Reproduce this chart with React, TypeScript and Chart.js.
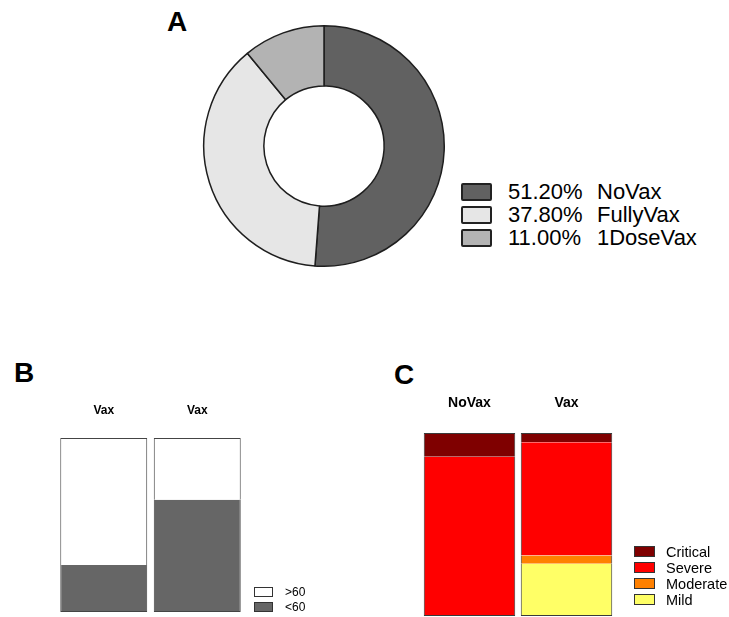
import React, { useEffect, useRef } from 'react';
import { Chart, registerables } from 'chart.js';

Chart.register(...registerables);

const FONT = 'Arial, "Liberation Sans", Helvetica, sans-serif';

// Panel A – vaccination status shares (%)
const vaxGroups = ['NoVax', 'FullyVax', '1DoseVax'];
const vaxShares = [51.2, 37.8, 11.0];
const vaxColors = ['#616161', '#e6e6e6', '#b3b3b3'];

// Panel B – age groups (%)
const ageCategories = ['Vax', 'Vax'];
const ageUnder60 = [27, 64.5];
const ageOver60 = [73, 35.5];
const ageLabels = ['>60', '<60'];
const ageColors = ['#ffffff', '#666666'];

// Panel C – severity (%)
const severityCategories = ['NoVax', 'Vax'];
const sevMild = [0, 28.5];
const sevModerate = [0, 4.5];
const sevSevere = [87, 62];
const sevCritical = [13, 5];
const severityLabels = ['Critical', 'Severe', 'Moderate', 'Mild'];
const severityColors = ['#7f0000', '#ff0000', '#ff8000', '#ffff66'];

type Box = { left: number; top: number; width: number; height: number };

function ChartCanvas({ box, makeConfig }: { box: Box; makeConfig: () => any }) {
  const ref = useRef<HTMLCanvasElement | null>(null);
  useEffect(() => {
    const chart = new Chart(ref.current as HTMLCanvasElement, makeConfig());
    return () => chart.destroy();
  }, []);
  return (
    <canvas
      ref={ref}
      width={box.width}
      height={box.height}
      style={{ position: 'absolute', left: box.left, top: box.top, width: box.width, height: box.height, display: 'block' }}
    />
  );
}

// outer outline only around each stacked column
const outlineWidth = (ctx: any) => {
  const sets = ctx.chart.data.datasets;
  const i = ctx.dataIndex;
  const d = ctx.datasetIndex;
  let below = 0;
  for (let k = 0; k < d; k++) below += Number(sets[k].data[i]) || 0;
  let above = 0;
  for (let k = d + 1; k < sets.length; k++) above += Number(sets[k].data[i]) || 0;
  return { left: 1, right: 1, top: above === 0 ? 1 : 0, bottom: below === 0 ? 1 : 0 };
};

const donutConfig = () => ({
  type: 'doughnut',
  data: {
    labels: vaxGroups,
    datasets: [
      {
        data: vaxShares,
        backgroundColor: vaxColors,
        borderColor: '#1e1e1e',
        borderWidth: 1.5,
      },
    ],
  },
  options: {
    responsive: false,
    animation: false,
    cutout: '50%',
    layout: { padding: 2 },
    plugins: { legend: { display: false }, tooltip: { enabled: false } },
  },
});

const ageConfig = () => ({
  type: 'bar',
  data: {
    labels: ageCategories,
    datasets: [
      { label: '<60', data: ageUnder60, backgroundColor: '#666666' },
      { label: '>60', data: ageOver60, backgroundColor: '#ffffff' },
    ].map((d) => ({ ...d, borderColor: '#444444', borderWidth: outlineWidth, borderSkipped: false, categoryPercentage: 1, barPercentage: 0.93 })),
  },
  options: {
    responsive: false,
    animation: false,
    layout: { padding: { left: 57, right: 56, top: 53, bottom: 5 } },
    plugins: { legend: { display: false }, tooltip: { enabled: false } },
    scales: {
      x: {
        stacked: true,
        position: 'top',
        grid: { display: false, drawTicks: false },
        border: { display: false },
        ticks: { color: '#000', padding: 20.3, font: { family: FONT, size: 12, weight: 'bold' } },
      },
      y: { stacked: true, display: false, min: 0, max: 100 },
    },
  },
});

const severityConfig = () => ({
  type: 'bar',
  data: {
    labels: severityCategories,
    datasets: [
      { label: 'Mild', data: sevMild, backgroundColor: severityColors[3] },
      { label: 'Moderate', data: sevModerate, backgroundColor: severityColors[2] },
      { label: 'Severe', data: sevSevere, backgroundColor: severityColors[1] },
      { label: 'Critical', data: sevCritical, backgroundColor: severityColors[0] },
    ].map((d) => ({ ...d, borderColor: '#3a3a3a', borderWidth: outlineWidth, borderSkipped: false, categoryPercentage: 1, barPercentage: 0.943 })),
  },
  options: {
    responsive: false,
    animation: false,
    layout: { padding: { left: 41, right: 114, top: 43, bottom: 1 } },
    plugins: { legend: { display: false }, tooltip: { enabled: false } },
    scales: {
      x: {
        stacked: true,
        position: 'top',
        grid: { display: false, drawTicks: false },
        border: { display: false },
        ticks: { color: '#000', padding: 21.6, font: { family: FONT, size: 14, weight: 'bold' } },
      },
      y: { stacked: true, display: false, min: 0, max: 100 },
    },
  },
});

const text = (extra: any): any => ({ position: 'absolute', fontFamily: FONT, color: '#000', whiteSpace: 'pre', ...extra });

export default function App() {
  return (
    <div style={{ position: 'absolute', left: 0, top: 0, width: 729, height: 617, background: '#fff', overflow: 'hidden' }}>
      <div style={text({ left: 167, top: 8, fontSize: 28, lineHeight: '28px', fontWeight: 'bold' })}>A</div>
      <div style={text({ left: 14, top: 359, fontSize: 28, lineHeight: '28px', fontWeight: 'bold' })}>B</div>
      <div style={text({ left: 394, top: 361, fontSize: 28, lineHeight: '28px', fontWeight: 'bold' })}>C</div>

      <ChartCanvas box={{ left: 201, top: 23, width: 246, height: 246 }} makeConfig={donutConfig} />
      <ChartCanvas box={{ left: 0, top: 330, width: 300, height: 287 }} makeConfig={ageConfig} />
      <ChartCanvas box={{ left: 380, top: 330, width: 349, height: 287 }} makeConfig={severityConfig} />

      {vaxGroups.map((g, i) => {
        const cy = 192 + i * 23;
        return (
          <React.Fragment key={g}>
            <div style={{ position: 'absolute', left: 461, top: cy - 9, width: 31, height: 18, boxSizing: 'border-box', border: '2px solid #222', borderRadius: 2, background: vaxColors[i] }} />
            <div style={text({ left: 508, top: cy - 12, fontSize: 22, lineHeight: '24px' })}>{vaxShares[i].toFixed(2) + '%'}</div>
            <div style={text({ left: 597, top: cy - 12, fontSize: 22, lineHeight: '24px' })}>{g}</div>
          </React.Fragment>
        );
      })}

      {ageLabels.map((l, i) => {
        const cy = 592 + i * 15;
        return (
          <React.Fragment key={l}>
            <div style={{ position: 'absolute', left: 254, top: cy - 5, width: 19, height: 10, boxSizing: 'border-box', border: '1px solid #333', background: ageColors[i] }} />
            <div style={text({ left: 285, top: cy - 8, fontSize: 12, lineHeight: '16px' })}>{l}</div>
          </React.Fragment>
        );
      })}

      {severityLabels.map((l, i) => {
        const cy = 551.5 + i * 16;
        return (
          <React.Fragment key={l}>
            <div style={{ position: 'absolute', left: 634, top: cy - 5.5, width: 21, height: 11, boxSizing: 'border-box', border: '1px solid #333', background: severityColors[i] }} />
            <div style={text({ left: 666, top: cy - 9, fontSize: 14.5, lineHeight: '18px' })}>{l}</div>
          </React.Fragment>
        );
      })}
    </div>
  );
}
